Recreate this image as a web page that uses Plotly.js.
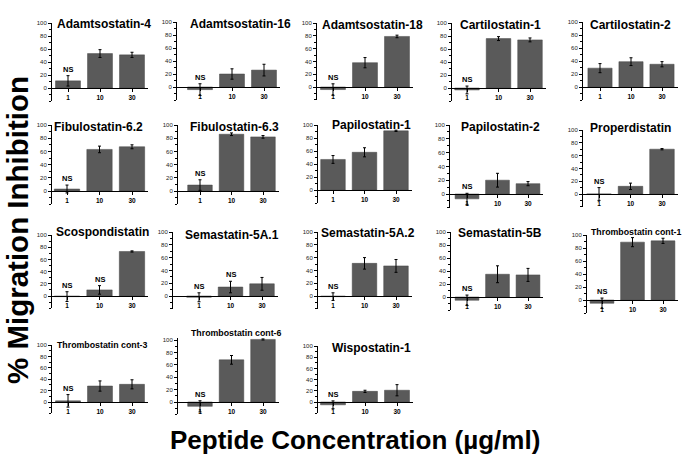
<!DOCTYPE html>
<html>
<head>
<meta charset="utf-8">
<script src="https://cdn.plot.ly/plotly-3.0.1.min.js"></script>
<style>html,body{margin:0;padding:0;background:#fff;}#chart{width:700px;height:461px;}</style>
</head>
<body>
<div id="chart"></div>
<script>
// ---------- data ----------
const panelTitles = [
  'Adamtsostatin-4','Adamtsostatin-16','Adamtsostatin-18','Cartilostatin-1','Cartilostatin-2',
  'Fibulostatin-6.2','Fibulostatin-6.3','Papilostatin-1','Papilostatin-2','Properdistatin',
  'Scospondistatin','Semastatin-5A.1','Semastatin-5A.2','Semastatin-5B','Thrombostatin cont-1',
  'Thrombostatin cont-3','Thrombostatin cont-6','Wispostatin-1'
];
const concentrations = ['1','10','30'];
const meanInhibition = [
  [11, 53, 51], [-4, 20, 26], [-4, 38, 79], [-3, 76, 74], [29, 39, 35],
  [3, 63, 67], [9, 86, 82], [47, 58, 91], [-7, 20, 15], [0, 12, 70],
  [-1, 10, 73], [-2, 14, 19], [-1, 51, 47], [-5, 35, 34], [-5, 89, 91],
  [2, 28, 31], [-7, 68, 101], [-5, 19, 21]
];
const errInhibition = [
  [8, 6, 4], [9, 8, 9], [9, 8, 2], [6, 3, 3], [7, 6, 4],
  [6, 5, 3], [8, 2, 2], [6, 7, 1], [8, 10, 3], [10, 5, 1],
  [8, 7, 1], [7, 9, 10], [6, 9, 10], [8, 13, 10], [8, 7, 4],
  [11, 9, 8], [9, 7, 1], [7, 2, 10]
];
const nsFlags = [
  [1,0,0],[1,0,0],[1,0,0],[1,0,0],[0,0,0],
  [1,0,0],[1,0,0],[0,0,0],[1,0,0],[1,0,0],
  [1,1,0],[1,1,0],[1,0,0],[1,0,0],[1,0,0],
  [1,0,0],[1,0,0],[1,0,0]
];
const yTickVals = [0, 20, 40, 60, 80, 100];
const yMinorVals = [-20, -10, 10, 30, 50, 70, 90];

// ---------- layout geometry (pixels) ----------
// [axisLeft, firstTickX, lastTickX, y at 100, y at 0, yMax]
const panelBox = [
  [52, 68, 132, 23, 88, 100], [177, 200, 264, 22, 87, 100], [317, 333, 397, 23, 87, 100], [452, 467, 530, 23, 88, 100], [583, 600, 662, 22, 87, 100],
  [52, 67, 132, 125, 191, 100], [178, 200, 263, 125, 191, 100], [318, 333, 396, 125, 190, 100], [450, 467, 528, 125, 194, 100], [583, 599, 662, 130, 194, 100],
  [52, 67, 132, 235, 296, 100], [173, 199, 262, 232, 296, 100], [318, 333, 396, 232, 296, 100], [451, 467, 528, 232, 297, 100], [587, 602, 663, 235, 300, 100],
  [52, 68, 132, 345, 402, 100], [178, 200, 263, 340, 402, 103], [318, 333, 397, 346, 402, 100]
];
// [centerX, centerY, fontSize]
const titlePos = [
  [104, 24, 12], [240, 24, 12], [372, 25, 12], [500, 25, 12], [630, 25, 12],
  [98, 127, 12], [234, 127, 12], [371, 125, 12], [500, 127, 12], [630, 128, 12],
  [102, 232, 12], [232, 235, 12], [368, 233, 12], [500, 233, 12], [636, 232, 8.8],
  [103, 345, 8.8], [236, 333, 8.8], [371, 348, 12]
];

const W = 700, H = 461;
const FONT = 'Liberation Sans, Arial, Helvetica, sans-serif';
const traces = [];
const layout = {
  width: W, height: H,
  margin: {l: 0, r: 0, t: 0, b: 0},
  paper_bgcolor: '#ffffff', plot_bgcolor: 'rgba(0,0,0,0)',
  showlegend: false, bargap: 0.22,
  font: {family: FONT, color: '#000'},
  annotations: []
};

panelTitles.forEach((title, i) => {
  const n = i + 1;
  const xa = 'xaxis' + (n === 1 ? '' : n), ya = 'yaxis' + (n === 1 ? '' : n);
  const xr = 'x' + (n === 1 ? '' : n), yr = 'y' + (n === 1 ? '' : n);
  const [L, c1, c3, t, z, yMax] = panelBox[i];
  const ppu = (c3 - c1) / 2;
  const right = c3 + 0.5 * ppu;
  const pxPerVal = (z - t) / 100;
  const top = z - yMax * pxPerVal;
  const bottom = z + 20 * pxPerVal;

  traces.push({
    type: 'bar', x: concentrations, y: meanInhibition[i], xaxis: xr, yaxis: yr,
    marker: {color: '#5a5a5a', line: {color: '#444', width: 0.5}},
    error_y: {type: 'data', array: errInhibition[i], visible: true, color: '#000', thickness: 1, width: 1.5},
    hoverinfo: 'skip'
  });

  layout[xa] = {
    domain: [L / W, right / W], anchor: 'free', position: 1 - z / H,
    type: 'category', range: [-(c1 - L) / ppu, 2.5],
    showline: true, linecolor: '#000', linewidth: 1,
    ticks: 'outside', ticklen: 3, tickcolor: '#000', tickwidth: 1,
    tickfont: {size: 6.5, family: FONT, color: '#000', weight: 'bold'},
    showgrid: false, zeroline: false, fixedrange: true
  };
  layout[ya] = {
    domain: [1 - bottom / H, 1 - top / H], anchor: xr,
    range: [-20, yMax], tickmode: 'array', tickvals: yTickVals,
    showline: true, linecolor: '#000', linewidth: 1,
    ticks: 'outside', ticklen: 3, tickcolor: '#000', tickwidth: 1,
    minor: {tickmode: 'array', tickvals: yMinorVals, ticks: 'outside', ticklen: 2, tickcolor: '#000'},
    tickfont: {size: 6, family: FONT, color: '#222'},
    showgrid: false, zeroline: false, fixedrange: true
  };

  const [tx, ty, ts] = titlePos[i];
  layout.annotations.push({
    xref: 'paper', yref: 'paper', x: tx / W, y: 1 - ty / H,
    xanchor: 'center', yanchor: 'middle', showarrow: false,
    text: '<b>' + title + '</b>', font: {size: ts, family: FONT, color: '#000'}
  });

  nsFlags[i].forEach((f, k) => {
    if (!f) return;
    layout.annotations.push({
      xref: xr, yref: yr, x: k, y: meanInhibition[i][k] + errInhibition[i][k],
      xanchor: 'center', yanchor: 'bottom', showarrow: false, yshift: 0,
      text: '<b>NS</b>', font: {size: 7.5, family: FONT, color: '#000'}
    });
  });
});

layout.annotations.push({
  xref: 'paper', yref: 'paper', x: 17 / W, y: 1 - 230 / H,
  xanchor: 'center', yanchor: 'middle', showarrow: false, textangle: -90,
  text: '<b>% Migration Inhibition</b>', font: {size: 29.5, family: FONT, color: '#000'}
});
layout.annotations.push({
  xref: 'paper', yref: 'paper', x: 355 / W, y: 1 - 440 / H,
  xanchor: 'center', yanchor: 'middle', showarrow: false,
  text: '<b>Peptide Concentration (µg/ml)</b>', font: {size: 26, family: FONT, color: '#000'}
});

Plotly.newPlot('chart', traces, layout, {staticPlot: true, displayModeBar: false});
</script>
</body>
</html>
